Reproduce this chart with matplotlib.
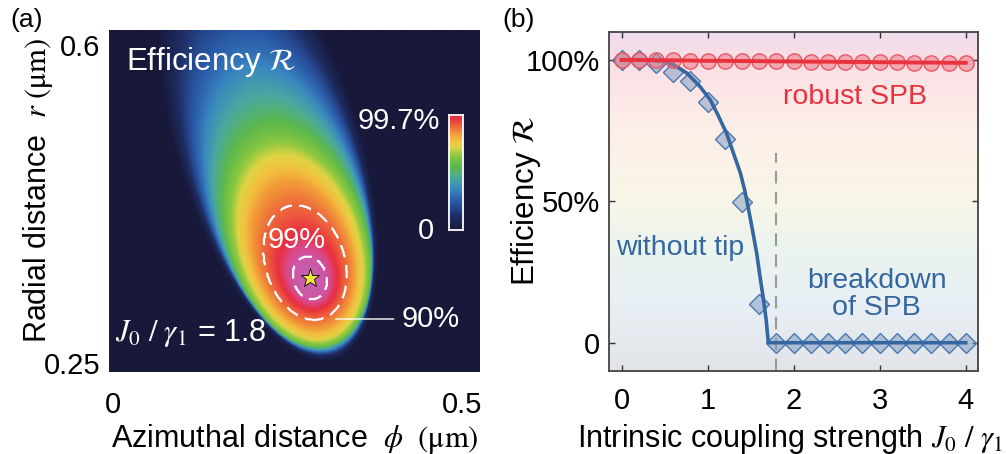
import matplotlib
matplotlib.use('Agg')  # sin pantalla

import matplotlib.pyplot as plt
import numpy as np
from matplotlib.colors import LinearSegmentedColormap

plt.rcParams['font.family'] = ['Liberation Sans', 'DejaVu Sans']
plt.rcParams['mathtext.fontset'] = 'stix'
plt.rcParams['font.size'] = 21

# ---------------- panel (a): efficiency map ----------------
phi_lim = (-0.0057, 0.5258)
r_lim = (0.2405, 0.6165)
phi_ticks = [0, 0.5]
phi_ticklabels = ['0', '0.5']
r_ticks = [0.25, 0.6]
r_ticklabels = ['0.25', '0.6']
star_phi, star_r = 0.282, 0.344
tilt_deg = 107.2
# how far each efficiency level reaches from the optimum (screen px)
eff_levels = [0.0, 0.1, 0.3, 0.5, 0.6, 0.73, 0.84, 0.9, 0.95, 0.99, 1.0]
reach_up   = [370, 315, 235, 175, 150, 125, 98, 76, 50, 22, 0]
reach_down = [86, 80, 76, 72, 70, 63, 52, 43, 34, 22, 0]
reach_side = [92, 84, 77, 71, 67, 58, 48, 40, 30, 17, 0]
contour_levels = [0.90, 0.99]

# colours of the map
cmap_nodes = [0.0, 0.12, 0.25, 0.35, 0.45, 0.55, 0.65, 0.72, 0.78, 0.84, 0.92, 0.97, 1.0]
cmap_colors = ['#18183a', '#1f2f66', '#2a5aa8', '#3a86c0', '#4aa8a0', '#5cb84c', '#8cc840',
               '#e0d445', '#f2c040', '#f29a38', '#ec5a3c', '#e8303f', '#e8303f']
core_nodes = [0.0, 0.12, 0.25, 0.35, 0.45, 0.55, 0.65, 0.72, 0.78, 0.84, 0.92, 0.955, 0.98, 1.0]
core_colors = ['#18183a', '#1f2f66', '#2a5aa8', '#3a86c0', '#4aa8a0', '#5cb84c', '#8cc840',
               '#e0d445', '#f2c040', '#f29a38', '#ec5a3c', '#e8303f', '#d84a90', '#c460b4']

# ---------------- panel (b): efficiency vs coupling ----------------
coupling = [0.0, 0.2, 0.4, 0.6, 0.8, 1.0, 1.2, 1.4, 1.6, 1.8, 2.0,
            2.2, 2.4, 2.6, 2.8, 3.0, 3.2, 3.4, 3.6, 3.8, 4.0]
eff_tip = [1.000, 1.000, 0.999, 0.999, 0.998, 0.997, 0.997, 0.996, 0.996, 0.995, 0.995,
           0.994, 0.994, 0.993, 0.993, 0.992, 0.992, 0.991, 0.991, 0.990, 0.990]
eff_no_tip = [1.0, 1.0, 0.988, 0.958, 0.925, 0.852, 0.722, 0.499, 0.137, 0.0, 0.0,
              0.0, 0.0, 0.0, 0.0, 0.0, 0.0, 0.0, 0.0, 0.0, 0.0]
fit_x = [0.0, 0.3, 0.5, 0.65, 0.76, 0.91, 1.03, 1.12, 1.22, 1.30, 1.38, 1.43,
         1.47, 1.52, 1.57, 1.61, 1.65, 1.68, 1.705, 4.0]
fit_y = [1.0, 1.0, 0.995, 0.975, 0.953, 0.906, 0.859, 0.805, 0.74, 0.67, 0.60, 0.54,
         0.48, 0.40, 0.316, 0.23, 0.15, 0.08, 0.0, 0.0]
critical = 1.8
bg_nodes = [0.0, 0.083, 0.21, 0.375, 0.5, 0.71, 0.917, 1.0]
bg_colors = ['#e2e4e8', '#e5e9ee', '#e8f0f5', '#ecf4ee', '#f8f6e6', '#fdefe9', '#fbdfe4', '#eedcee']

RED = '#e8333f'
BLUE = '#3466a0'

fig = plt.figure(figsize=(10.06, 4.54), dpi=100)

# ===== (a) =====
ax1 = fig.add_axes([109 / 1006, 1 - 372 / 454, 371 / 1006, 342 / 454])
W, H = 371.0, 342.0
gx = np.linspace(phi_lim[0], phi_lim[1], 420)
gy = np.linspace(r_lim[0], r_lim[1], 390)
PX, PY = np.meshgrid(gx, gy)
sx = (PX - star_phi) / (phi_lim[1] - phi_lim[0]) * W
sy = (PY - star_r) / (r_lim[1] - r_lim[0]) * H
th = np.deg2rad(tilt_deg)
s = sx * np.cos(th) + sy * np.sin(th)
t = -sx * np.sin(th) + sy * np.cos(th)

fine = np.linspace(0, 1, 301)
up = np.interp(fine, eff_levels, reach_up)
down = np.interp(fine, eff_levels, reach_down)
side = np.interp(fine, eff_levels, reach_side)
field = np.zeros_like(s)
for L, u, d, w in zip(fine, up, down, side):
    a = (u + d) / 2
    if a <= 0 or w <= 0:
        continue
    c = (u - d) / 2
    inside = ((s - c) / a) ** 2 + (t / w) ** 2 <= 1
    field[inside] = L

map_cmap = LinearSegmentedColormap.from_list('mapa', list(zip(core_nodes, core_colors)))
ax1.imshow(field, extent=[phi_lim[0], phi_lim[1], r_lim[0], r_lim[1]], origin='lower',
           aspect='auto', cmap=map_cmap, vmin=0, vmax=1, interpolation='bilinear')
ax1.contour(gx, gy, field, levels=contour_levels, colors='white',
            linewidths=1.6, linestyles=[(0, (6, 3.5))])
ax1.plot(star_phi, star_r, marker='*', markersize=14, color='#f3e43c',
         markeredgecolor='black', markeredgewidth=0.6)
ax1.set_xlim(phi_lim)
ax1.set_ylim(r_lim)
ax1.set_xticks(phi_ticks)
ax1.set_xticklabels(phi_ticklabels)
ax1.set_yticks(r_ticks)
ax1.set_yticklabels(r_ticklabels)
ax1.tick_params(length=0, labelsize=21)
ax1.tick_params(axis='x', pad=14)
ax1.tick_params(axis='y', pad=6)
for sp in ax1.spines.values():
    sp.set_visible(False)
ax1.set_xlabel(r'Azimuthal distance  $\phi\ \ \mathrm{(μm)}$', fontsize=22)
ax1.set_ylabel(r'Radial distance  $r\ \mathrm{(μm)}$', fontsize=22)
ax1.xaxis.set_label_coords(0.5, -0.146)
ax1.yaxis.set_label_coords(-0.145, 0.53)

ax1.text(0.045, 0.905, r'Efficiency $\mathcal{R}$', transform=ax1.transAxes,
         color='white', fontsize=22.5, va='center', ha='left')
ax1.text(0.507, 0.386, '99%', transform=ax1.transAxes, color='white', fontsize=21,
         ha='center', va='center')
ax1.text(0.016, 0.114, r'$J_0\ /\ \gamma_1$ = 1.8', transform=ax1.transAxes,
         color='white', fontsize=22, ha='left', va='center')
ax1.annotate('90%', xy=(0.611, 0.155), xycoords='axes fraction',
             xytext=(0.79, 0.155), textcoords='axes fraction',
             color='white', fontsize=21, ha='left', va='center',
             arrowprops=dict(arrowstyle='-', color='white', lw=1.0, shrinkA=4, shrinkB=0))

# colour bar
cax = fig.add_axes([449 / 1006, 1 - 230 / 454, 14 / 1006, 115 / 454])
bar_cmap = LinearSegmentedColormap.from_list('barra', list(zip(cmap_nodes, cmap_colors)))
cax.imshow(np.linspace(0, 1, 256)[:, None], origin='lower', aspect='auto', cmap=bar_cmap)
cax.set_xticks([])
cax.set_yticks([])
for sp in cax.spines.values():
    sp.set_color('white')
    sp.set_linewidth(1.3)
fig.text(440 / 1006, 1 - 121 / 454, '99.7%', color='white', fontsize=21, ha='right', va='center')
fig.text(434 / 1006, 1 - 231 / 454, '0', color='white', fontsize=21, ha='right', va='center')

# ===== (b) =====
ax2 = fig.add_axes([608.7 / 1006, 1 - 370.7 / 454, 369.3 / 1006, 339 / 454])
xlim2 = (-0.151, 4.143)
ylim2 = (-0.099, 1.10)
bg_cmap = LinearSegmentedColormap.from_list('fondo', list(zip(bg_nodes, bg_colors)))
ax2.imshow(np.linspace(0, 1, 256)[:, None], extent=[xlim2[0], xlim2[1], ylim2[0], ylim2[1]],
           origin='lower', aspect='auto', cmap=bg_cmap, zorder=0)
ax2.plot([critical, critical], [ylim2[0], 0.67], color='#9a9a9a', lw=1.5,
         dashes=(6, 4), zorder=1)
ax2.plot(coupling, eff_no_tip, linestyle='none', marker='D', markersize=10,
         markerfacecolor=(0.48, 0.6, 0.76, 0.5), markeredgecolor='#4a78b0',
         markeredgewidth=1.0, zorder=2)
ax2.plot(fit_x, fit_y, color=BLUE, lw=2.6, zorder=3)
ax2.plot(coupling, eff_tip, linestyle='none', marker='o', markersize=11,
         markerfacecolor=(0.93, 0.45, 0.5, 0.5), markeredgecolor='#ec5563',
         markeredgewidth=1.0, zorder=4)
ax2.plot(coupling, eff_tip, color=RED, lw=2.8, zorder=5)

ax2.set_xlim(xlim2)
ax2.set_ylim(ylim2)
ax2.set_xticks([0, 1, 2, 3, 4])
ax2.set_yticks([0, 0.5, 1.0])
ax2.set_yticklabels(['0', '50%', '100%'])
ax2.tick_params(direction='in', length=4, width=1, top=True, right=True,
                labelsize=21, color='#333333')
ax2.tick_params(axis='x', pad=12)
ax2.tick_params(axis='y', pad=6)
for sp in ax2.spines.values():
    sp.set_color('#444444')
    sp.set_linewidth(1.3)
ax2.set_xlabel(r'Intrinsic coupling strength $J_0\ /\ \gamma_1$', fontsize=22)
ax2.set_ylabel(r'Efficiency $\mathcal{R}$', fontsize=22.5)
ax2.xaxis.set_label_coords(0.49, -0.151)
ax2.yaxis.set_label_coords(-0.178, 0.5)

ax2.text(2.71, 0.87, 'robust SPB', color=RED, fontsize=20.5, ha='center', va='center')
ax2.text(-0.07, 0.335, 'without tip', color=BLUE, fontsize=20.5, ha='left', va='center')
ax2.text(2.965, 0.17, 'breakdown\nof SPB', color=BLUE, fontsize=20.5, ha='center',
         va='center', linespacing=1.05)

fig.text(10 / 1006, 1 - 20 / 454, '(a)', fontsize=19, ha='left', va='center')
fig.text(502 / 1006, 1 - 20 / 454, '(b)', fontsize=19, ha='left', va='center')

fig.savefig('out.png', dpi=100)
plt.close(fig)
